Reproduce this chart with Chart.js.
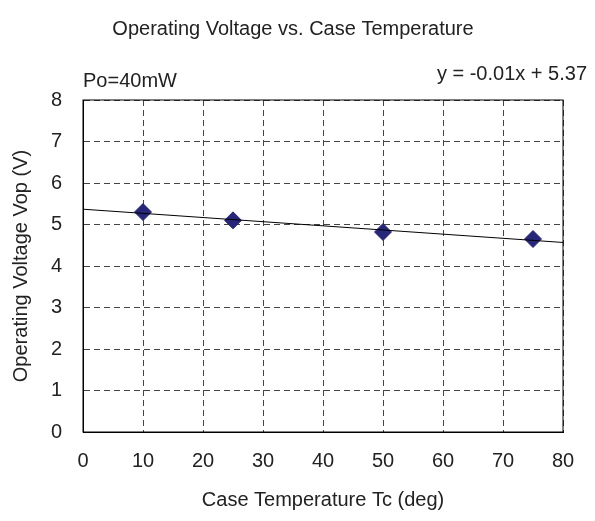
<!DOCTYPE html>
<html>
<head>
<meta charset="utf-8">
<script src="https://cdn.jsdelivr.net/npm/chart.js@4/dist/chart.umd.min.js"></script>
<style>
  html, body { margin: 0; padding: 0; background: #fff; }
  #wrap { width: 595px; height: 521px; }
</style>
</head>
<body>
<div id="wrap"><canvas id="voltageChart" width="595" height="521"></canvas></div>
<script>
// measured points
const caseTemps = [10, 25, 50, 75];
const opVoltages = [5.3, 5.1, 4.82, 4.65];
const xTicks = [0, 10, 20, 30, 40, 50, 60, 70, 80];
const yTicks = [0, 1, 2, 3, 4, 5, 6, 7, 8];

const FONT = "'Liberation Sans', Arial, sans-serif";

// least squares fit for the trendline
function linearFit(xs, ys) {
  const n = xs.length;
  const mx = xs.reduce((a, b) => a + b, 0) / n;
  const my = ys.reduce((a, b) => a + b, 0) / n;
  let sxy = 0, sxx = 0;
  xs.forEach((x, i) => {
    sxy += (x - mx) * (ys[i] - my);
    sxx += (x - mx) * (x - mx);
  });
  const slope = sxy / sxx;
  return { slope, intercept: my - slope * mx };
}

const fit = linearFit(caseTemps, opVoltages);
const trend = [xTicks[0], xTicks[xTicks.length - 1]].map((x) => ({ x, y: fit.slope * x + fit.intercept }));

const annotations = {
  id: "annotations",
  afterDraw(chart) {
    const { ctx, chartArea } = chart;
    ctx.save();
    ctx.strokeStyle = "#000";
    ctx.lineWidth = 1;
    ctx.strokeRect(chartArea.left, chartArea.top, chartArea.right - chartArea.left, chartArea.bottom - chartArea.top);
    ctx.fillStyle = "#222";
    ctx.font = "20px " + FONT;
    ctx.textBaseline = "alphabetic";
    ctx.textAlign = "center";
    ctx.fillText("Operating Voltage vs. Case Temperature", 293, 35);
    ctx.textAlign = "left";
    ctx.fillText("Po=40mW", 83, 87);
    ctx.textAlign = "right";
    ctx.fillText("y = -0.01x + 5.37", 587, 80);
    ctx.restore();
  },
};

const ctx = document.getElementById("voltageChart").getContext("2d");

new Chart(ctx, {
  type: "scatter",
  data: {
    datasets: [
      {
        label: "Trend",
        type: "line",
        data: trend,
        borderColor: "#000",
        borderWidth: 1,
        pointRadius: 0,
        fill: false,
        order: 0,
      },
      {
        label: "Vop",
        data: caseTemps.map((x, i) => ({ x, y: opVoltages[i] })),
        pointStyle: "rectRot",
        pointRadius: 8.5,
        backgroundColor: "#27277a",
        borderColor: "#27277a",
        borderWidth: 1,
        order: 1,
      },
    ],
  },
  options: {
    responsive: false,
    animation: false,
    layout: { padding: { top: 100, right: 32, left: 0, bottom: 0 } },
    plugins: {
      legend: { display: false },
      tooltip: { enabled: false },
    },
    scales: {
      x: {
        type: "linear",
        min: 0,
        max: 80,
        afterBuildTicks: (s) => { s.ticks = xTicks.map((v) => ({ value: v })); },
        afterFit: (s) => { s.height = 89; },
        grid: { color: "#444", drawTicks: false },
        border: { color: "#000", dash: [6, 4] },
        ticks: { color: "#222", font: { family: FONT, size: 20 }, padding: 17 },
        title: {
          display: true,
          text: "Case Temperature Tc (deg)",
          color: "#222",
          font: { family: FONT, size: 20 },
          padding: { top: 0, bottom: 9 },
        },
      },
      y: {
        min: 0,
        max: 8,
        afterBuildTicks: (s) => { s.ticks = yTicks.map((v) => ({ value: v })); },
        afterFit: (s) => { s.width = 83; },
        grid: { color: "#444", drawTicks: false },
        border: { color: "#000", dash: [6, 4] },
        ticks: { color: "#222", font: { family: FONT, size: 20 }, padding: 21 },
        title: {
          display: true,
          text: "Operating Voltage Vop (V)",
          color: "#222",
          font: { family: FONT, size: 20 },
          padding: { top: 9, bottom: 0 },
        },
      },
    },
  },
  plugins: [annotations],
});
</script>
</body>
</html>
